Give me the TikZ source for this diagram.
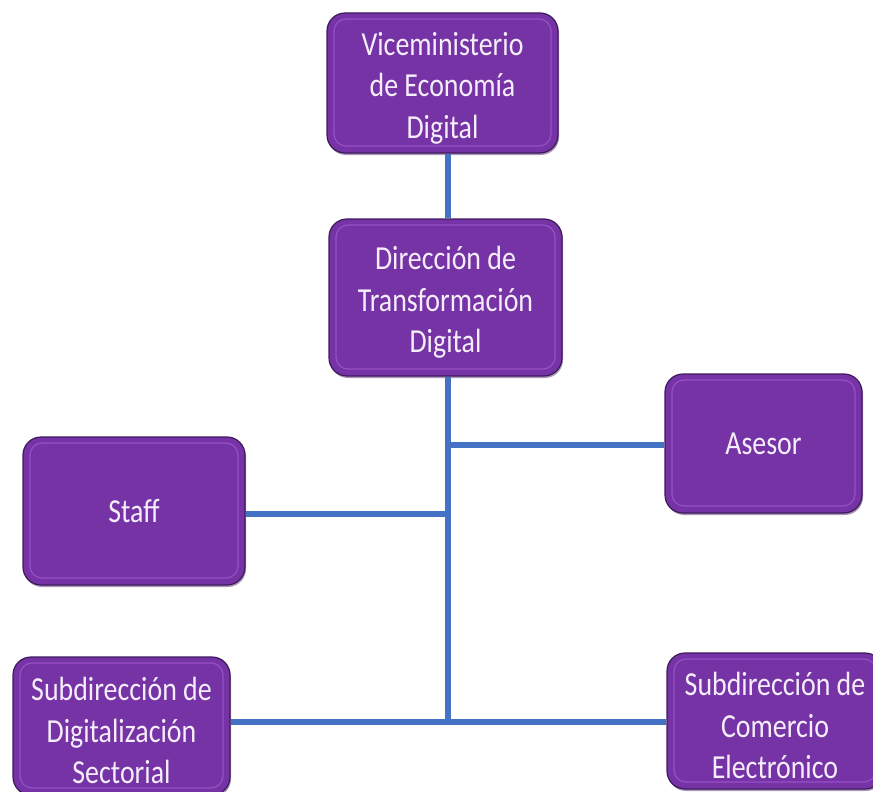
\documentclass[tikz,border=0pt]{standalone}
\usepackage{fontspec}
\setmainfont{Carlito}[FakeStretch=0.83]
\usetikzlibrary{shadows}
\definecolor{boxfill}{HTML}{7533A5}
\definecolor{boxedge}{HTML}{3E1A5C}
\definecolor{boxrim}{HTML}{9450C4}
\definecolor{boxtext}{HTML}{F5EDFA}
\definecolor{linkblue}{HTML}{4472C4}
% fixed first-line height so three-line labels sit centred in their boxes
\newcommand{\firstlinestrut}{\rule{0pt}{33pt}}
\tikzset{
  orgbox/.style={
    rectangle, rounded corners=18pt, fill=boxfill, draw=boxedge, line width=1.2pt,
    text=boxtext, align=center, inner sep=0pt,
    font=\fontsize{33.6}{41.5}\selectfont,
    drop shadow={shadow xshift=1pt, shadow yshift=-2pt, opacity=0.45, fill=boxedge},
    path picture={
      \draw[boxrim, line width=1.2pt, rounded corners=12pt]
        ([shift={(7pt,-6pt)}]path picture bounding box.north west) rectangle
        ([shift={(-7pt,7pt)}]path picture bounding box.south east);
    }
  },
  link/.style={draw=linkblue, line width=6pt}
}
\begin{document}
\begin{tikzpicture}[x=1pt, y=-1pt]
  \useasboundingbox (0,0) rectangle (873,792);
  \begin{scope}
    \clip (0,0) rectangle (873,792);
    % junction points on the central trunk
    \coordinate (jA) at (448,445);
    \coordinate (jS) at (448,514);
    \coordinate (jB) at (448,722);

    \node[orgbox, minimum width=231pt, minimum height=140pt] (vice) at (442.5,83)
      {\firstlinestrut Viceministerio\\de Economía\\Digital};
    \node[orgbox, minimum width=233pt, minimum height=157pt] (dir) at (445.5,297.5)
      {\firstlinestrut Dirección de\\Transformación\\Digital};
    \node[orgbox, minimum width=197pt, minimum height=139pt] (asesor) at (763.5,443.5)
      {Asesor};
    \node[orgbox, minimum width=222pt, minimum height=148pt] (staff) at (134,511)
      {Staff};
    \node[orgbox, minimum width=217pt, minimum height=138pt] (subdig) at (121.5,726)
      {\firstlinestrut Subdirección de\\Digitalización\\Sectorial};
    \node[orgbox, minimum width=216pt, minimum height=136pt] (subcom) at (775,721)
      {\firstlinestrut Subdirección de\\Comercio\\Electrónico};

    \draw[link] (vice.south -| jB) -- (dir.north -| jB);
    \draw[link] (dir.south -| jB) -- (jB);
    \draw[link] (jA) -- (asesor.west |- jA);
    \draw[link] (staff.east |- jS) -- (jS);
    \draw[link] (subdig.east |- jB) -- (subcom.west |- jB);
  \end{scope}
\end{tikzpicture}
\end{document}
